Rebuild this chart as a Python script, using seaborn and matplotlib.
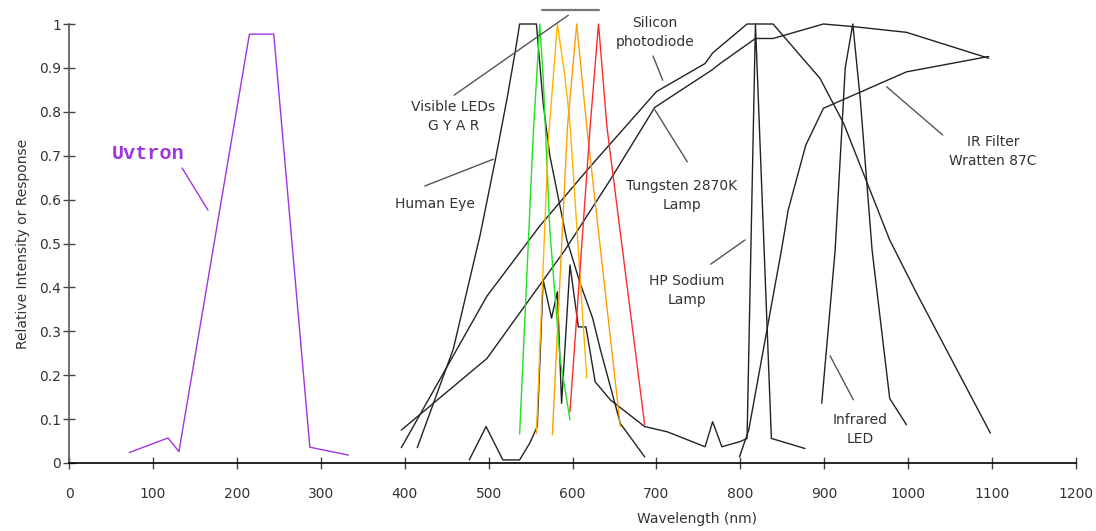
import matplotlib
matplotlib.use("Agg")
import matplotlib.pyplot as plt
import seaborn as sns

# wavelengths (nm) and relative response
uvtron_x = [72, 118, 131, 215, 244, 287, 333]
uvtron_y = [0.024, 0.057, 0.026, 0.977, 0.977, 0.036, 0.018]

eye_x = [415, 458, 490, 508, 522, 532, 537, 557, 565, 573, 593, 609, 624, 633, 657, 686]
eye_y = [0.035, 0.26, 0.52, 0.69, 0.83, 0.94, 1.0, 1.0, 0.82, 0.70, 0.51, 0.41, 0.33, 0.26, 0.09, 0.014]

silicon_x = [396, 498, 561, 621, 700, 758, 767, 808, 839, 895, 923, 978, 1010, 1098]
silicon_y = [0.035, 0.38, 0.54, 0.675, 0.846, 0.91, 0.934, 1.0, 1.0, 0.876, 0.774, 0.508, 0.387, 0.068]

tungsten_x = [396, 498, 591, 645, 698, 766, 776, 818, 839, 899, 935, 998, 1096]
tungsten_y = [0.075, 0.238, 0.485, 0.645, 0.81, 0.895, 0.91, 0.967, 0.967, 1.0, 0.994, 0.981, 0.922]

sodium_x = [477, 497, 517, 537, 549, 558, 565, 575, 582, 587, 597, 607, 616, 627, 645,
            686, 713, 758, 767, 778, 800, 808, 818, 837, 877]
sodium_y = [0.007, 0.083, 0.007, 0.007, 0.045, 0.083, 0.417, 0.33, 0.39, 0.136, 0.451, 0.31, 0.31, 0.185, 0.144,
            0.083, 0.071, 0.037, 0.094, 0.037, 0.049, 0.056, 1.0, 0.056, 0.033]

irfilter_x = [799, 810, 849, 857, 878, 899, 998, 1096]
irfilter_y = [0.014, 0.075, 0.485, 0.576, 0.724, 0.808, 0.891, 0.926]

irled_x = [897, 913, 925, 934, 943, 957, 978, 998]
irled_y = [0.136, 0.485, 0.9, 1.0, 0.827, 0.485, 0.147, 0.087]

green_x = [537, 553, 561, 565, 573, 585, 597]
green_y = [0.066, 0.74, 1.0, 0.88, 0.53, 0.24, 0.098]

yellow_x = [557, 571, 582, 591, 597, 617]
yellow_y = [0.067, 0.73, 1.0, 0.88, 0.774, 0.193]

amber_x = [576, 594, 605, 617, 657]
amber_y = [0.064, 0.766, 1.0, 0.766, 0.083]

red_x = [597, 621, 631, 641, 686]
red_y = [0.117, 0.766, 1.0, 0.766, 0.087]

x_ticks = list(range(0, 1300, 100))
y_ticks = [0, 0.1, 0.2, 0.3, 0.4, 0.5, 0.6, 0.7, 0.8, 0.9, 1]
y_tick_labels = ["0", "0.1", "0.2", "0.3", "0.4", "0.5", "0.6", "0.7", "0.8", "0.9", "1"]

sns.set_style("ticks")
plt.rcParams['font.family'] = ['DejaVu Sans']

fig = plt.figure(figsize=(10.96, 5.31), dpi=100)
ax = fig.add_axes([69 / 1096, 68 / 531, 1007 / 1096, 439 / 531])

black = '#222222'
series = [
    (uvtron_x, uvtron_y, '#A035E0'),
    (eye_x, eye_y, black),
    (silicon_x, silicon_y, black),
    (tungsten_x, tungsten_y, black),
    (sodium_x, sodium_y, black),
    (irfilter_x, irfilter_y, black),
    (irled_x, irled_y, black),
    (green_x, green_y, '#22E022'),
    (yellow_x, yellow_y, '#FFB400'),
    (amber_x, amber_y, '#FFA000'),
    (red_x, red_y, '#FF2A2A'),
]
for xs, ys, c in series:
    sns.lineplot(x=xs, y=ys, ax=ax, color=c, lw=1.0, sort=False,
                 estimator=None, errorbar=None, clip_on=False)

ax.set_xlim(0, 1200)
ax.set_ylim(0, 1)
ax.set_xticks(x_ticks)
ax.set_yticks(y_ticks)
ax.set_yticklabels(y_tick_labels)
sns.despine(ax=ax)
ax.spines['left'].set_color('#555555')
ax.spines['bottom'].set_color('black')
ax.spines['left'].set_linewidth(1.2)
ax.spines['bottom'].set_linewidth(1.2)
ax.tick_params(direction='inout', length=9, width=1, color='#444444',
               labelcolor='#333333', labelsize=10)
ax.tick_params(axis='x', pad=12.5)
ax.tick_params(axis='y', pad=1)

ax.set_ylabel("Relative Intensity or Response", fontsize=10, color='#333333', labelpad=7)
ax.set_xlabel("Wavelength (nm)", fontsize=10, color='#333333')
ax.xaxis.set_label_coords(0.624, -0.112)

txt = dict(fontsize=10, color='#333333', ha='center', va='center', linespacing=1.45)
lead = dict(color='#555555', lw=1.0, clip_on=False)

ax.text(458, 0.789, "Visible LEDs\nG Y A R", **txt)
ax.plot([459, 595], [0.838, 1.02], **lead)
ax.plot([564, 632], [1.032, 1.032], color='#777777', lw=1.6, clip_on=False)

ax.text(698, 0.98, "Silicon\nphotodiode", **txt)
ax.plot([696, 707.5], [0.927, 0.872], **lead)

ax.text(436, 0.589, "Human Eye", **txt)
ax.plot([424, 505.6], [0.631, 0.692], **lead)

ax.text(730, 0.61, "Tungsten 2870K\nLamp", **txt)
ax.plot([698.3, 736.8], [0.804, 0.686], **lead)

ax.text(736, 0.394, "HP Sodium\nLamp", **txt)
ax.plot([764.7, 805.6], [0.453, 0.508], **lead)

ax.text(1101, 0.709, "IR Filter\nWratten 87C", **txt)
ax.plot([974.4, 1041.2], [0.857, 0.747], **lead)

ax.text(943, 0.076, "Infrared\nLED", **txt)
ax.plot([907, 934.7], [0.244, 0.144], **lead)

ax.text(94, 0.706, "Uvtron", fontsize=14.5, fontweight='bold', color='#A035E0',
        family=['Liberation Mono', 'DejaVu Sans Mono'], ha='center', va='center')
ax.plot([134.7, 165.6], [0.672, 0.576], color='#A035E0', lw=1.0)

plt.savefig("out.png", dpi=100)
